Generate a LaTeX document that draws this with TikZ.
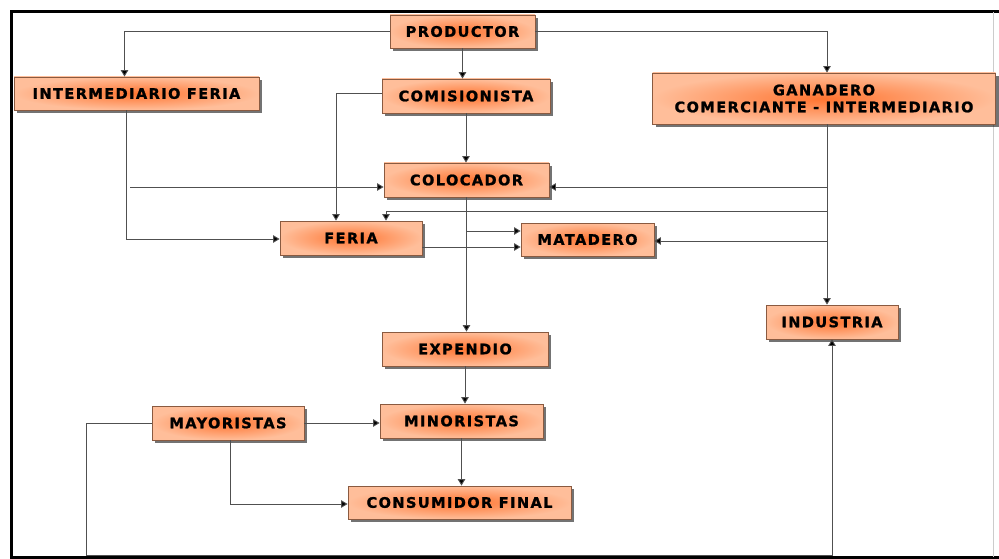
\documentclass[tikz,border=0pt]{standalone}
\usepackage{fontspec}
\newfontfamily\boxfont{DejaVu Sans}[LetterSpace=10,BoldFeatures={FakeBold=1.2}]
\usetikzlibrary{arrows.meta,shadows}
\definecolor{boxin}{HTML}{FF7430}
\definecolor{boxout}{HTML}{FFBE9A}
\definecolor{boxline}{HTML}{8A5A40}
\definecolor{lnk}{HTML}{505050}
\begin{document}
\begin{tikzpicture}[x=1pt,y=-1pt,
  box/.style={draw=boxline, line width=0.8pt, inner color=boxin, outer color=boxout,
    inner sep=0pt, align=center, text=black,
    font=\boxfont\bfseries\fontsize{14.5}{16}\selectfont,
    drop shadow={shadow xshift=3pt, shadow yshift=-3pt, fill=black, opacity=0.55}},
  arr/.style={draw=lnk, line width=0.9pt, -{Triangle[length=6.5pt,width=7.5pt,fill=black]}}]
\useasboundingbox (0,0) rectangle (999,559);
% frame
\draw[black, line width=3pt] (999,12) -- (11,12) -- (11,557) -- (999,557);
\draw[gray!40, line width=0.8pt] (993,12) -- (993,557);
% nodes
\node[box, minimum width=145pt, minimum height=33pt] (prod) at (462.5,31.5) {PRODUCTOR};
\node[box, minimum width=245pt, minimum height=33pt] (interm) at (136.5,93.5) {INTERMEDIARIO FERIA};
\node[box, minimum width=168pt, minimum height=34pt] (comis) at (466,96) {COMISIONISTA};
\node[box, minimum width=343pt, minimum height=51pt] (gan) at (824,98.5) {GANADERO\\[1pt]COMERCIANTE - INTERMEDIARIO};
\node[box, minimum width=165pt, minimum height=34pt] (coloc) at (466.5,180) {COLOCADOR};
\node[box, minimum width=142pt, minimum height=34pt] (feria) at (351,238) {FERIA};
\node[box, minimum width=133pt, minimum height=33pt] (mat) at (587.5,239.5) {MATADERO};
\node[box, minimum width=166pt, minimum height=34pt] (exp) at (465,349) {EXPENDIO};
\node[box, minimum width=132pt, minimum height=34pt] (ind) at (832,322) {INDUSTRIA};
\node[box, minimum width=152pt, minimum height=34pt] (may) at (228,423) {MAYORISTAS};
\node[box, minimum width=163pt, minimum height=34pt] (min) at (461.5,421) {MINORISTAS};
\node[box, minimum width=223pt, minimum height=33pt] (cons) at (459.5,502.5) {CONSUMIDOR FINAL};
% junction coordinates
\coordinate (ij) at (130,187);
\coordinate (g1) at (827,187);
\coordinate (g2) at (827,211);
\coordinate (g3) at (827,241);
\coordinate (c1) at (466.5,231);
\coordinate (b1) at (86,555);
% connectors
\draw[arr] (prod.west) -| ([xshift=-12pt]interm.north);
\draw[arr] (prod.east) -| ([xshift=3pt]gan.north);
\draw[arr] (prod.south) -- (prod.south |- comis.north);
\draw[arr] (comis.south) -- (comis.south |- coloc.north);
\draw[arr] ([yshift=3pt]comis.west) -| ([xshift=-15pt]feria.north);
\draw[arr] ([xshift=-10.5pt]interm.south) |- ([yshift=-1pt]feria.west);
\draw[arr] (ij) -- (ij -| coloc.west);
\draw[arr] ([xshift=3pt]gan.south) -- ([xshift=3pt]gan.south |- ind.north);
\draw[arr] (g1) -- (g1 -| coloc.east);
\draw[arr] (g2) -| ([xshift=35pt]feria.north);
\draw[arr] (g3) -- (g3 -| mat.east);
\draw[arr] (coloc.south) -- (coloc.south |- exp.north);
\draw[arr] (c1) -- (c1 -| mat.west);
\draw[arr] ([yshift=-9pt]feria.east) -- ([yshift=-9pt]feria.east -| mat.west);
\draw[arr] (exp.south) -- (exp.south |- min.north);
\draw[arr] (may.east) -- (may.east -| min.west);
\draw[arr] (min.south) -- (min.south |- cons.north);
\draw[arr] ([xshift=2pt]may.south) |- ([yshift=-1.5pt]cons.west);
\draw[arr] (may.west) -| (b1) -| (ind.south);
\end{tikzpicture}
\end{document}
